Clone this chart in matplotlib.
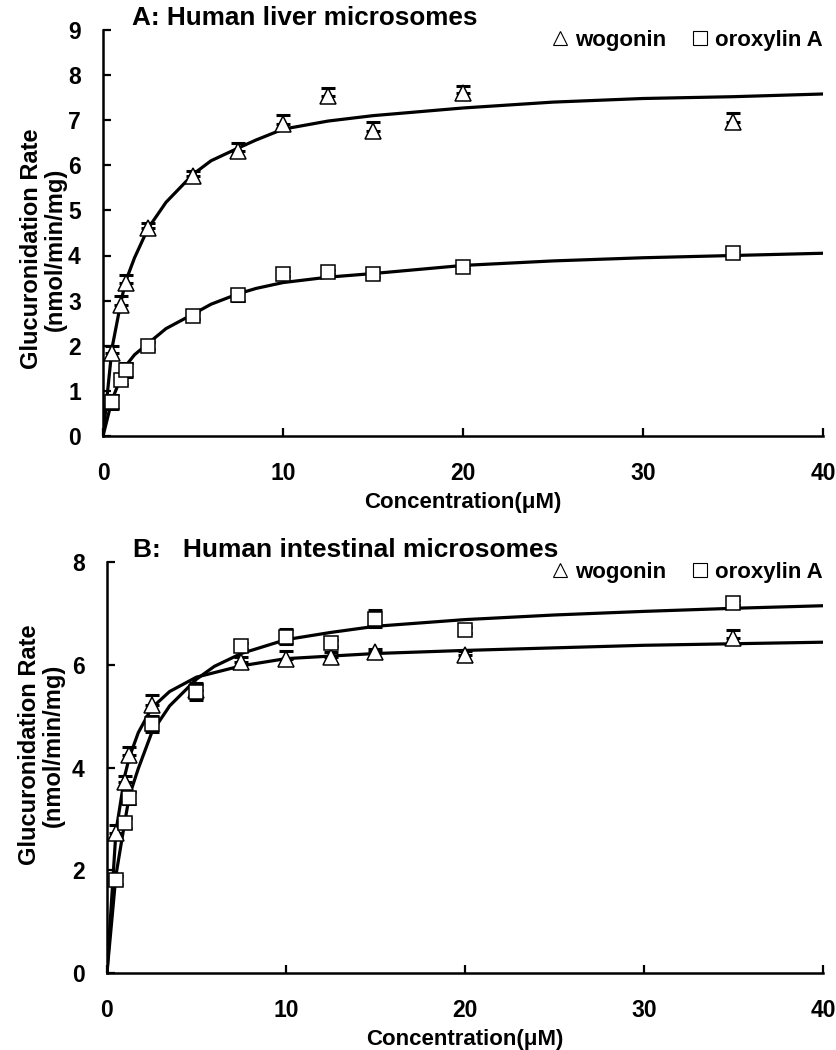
import numpy as np
import matplotlib
matplotlib.use('Agg')
from matplotlib import pyplot as plt
from matplotlib.lines import Line2D

plt.rcParams['font.family'] = ['Liberation Sans', 'DejaVu Sans']
plt.rcParams['font.weight'] = 'bold'

conc = [0.5, 1, 1.25, 2.5, 5, 7.5, 10, 12.5, 15, 20, 35]   # [uM]

# A: human liver microsomes
liver_wog = [1.84, 2.9, 3.39, 4.62, 5.77, 6.32, 6.92, 7.54, 6.77, 7.6, 6.97]
liver_wog_err = [0.16, 0.2, 0.18, 0.1, 0.1, 0.17, 0.2, 0.17, 0.2, 0.16, 0.18]
liver_oro = [0.75, 1.25, 1.46, 2.0, 2.67, 3.12, 3.6, 3.63, 3.58, 3.75, 4.05]
liver_oro_err = [0.15, 0.1, 0.16, 0.08, 0.08, 0.12, 0.06, 0.05, 0.05, 0.05, 0.05]

# fitted curves
liver_fit_x = [0, 0.5, 1, 1.25, 1.75, 2.5, 3.5, 5, 6, 7.5, 8.5, 10, 12.5, 15, 20, 25, 30, 35, 40]
liver_wog_fit = [0, 1.95, 2.98, 3.42, 3.95, 4.6, 5.18, 5.8, 6.1, 6.38, 6.56, 6.8, 6.98, 7.1,
                 7.27, 7.4, 7.48, 7.52, 7.58]
liver_oro_fit = [0, 0.8, 1.3, 1.55, 1.8, 2.05, 2.38, 2.7, 2.92, 3.15, 3.27, 3.4, 3.52, 3.6,
                 3.78, 3.88, 3.95, 4.0, 4.05]

# B: human intestinal microsomes
intest_wog = [2.73, 3.72, 4.25, 5.22, 5.5, 6.06, 6.12, 6.16, 6.24, 6.2, 6.53]
intest_wog_err = [0.15, 0.12, 0.15, 0.2, 0.12, 0.1, 0.15, 0.08, 0.06, 0.06, 0.14]
intest_oro = [1.81, 2.92, 3.41, 4.85, 5.48, 6.36, 6.55, 6.43, 6.9, 6.67, 7.21]
intest_oro_err = [0.08, 0.1, 0.12, 0.15, 0.17, 0.06, 0.14, 0.06, 0.17, 0.06, 0.05]

intest_wog_fit_x = [0, 0.5, 1, 1.25, 1.75, 2.5, 3.5, 5, 7.5, 10, 15, 20, 30, 40]
intest_wog_fit = [0, 2.75, 3.85, 4.2, 4.68, 5.16, 5.48, 5.76, 5.98, 6.12, 6.22, 6.28, 6.38, 6.44]
intest_oro_fit_x = [0, 0.5, 1, 1.25, 1.75, 2.5, 3.5, 5, 6, 7.5, 10, 12.5, 15, 20, 25, 30, 35, 40]
intest_oro_fit = [0, 1.9, 2.95, 3.45, 3.98, 4.68, 5.2, 5.72, 5.97, 6.22, 6.49, 6.63, 6.75, 6.88,
                  6.97, 7.04, 7.1, 7.15]


def draw_panel(ax, wog, wog_err, oro, oro_err, wfx, wfit, ofx, ofit):
    ax.plot(wfx, wfit, color='k', lw=2.3, zorder=2)
    ax.plot(ofx, ofit, color='k', lw=2.3, zorder=2)
    ax.errorbar(conc, wog, yerr=[np.zeros(len(wog)), wog_err], fmt='none',
                ecolor='k', elinewidth=1.2, capsize=4.7, capthick=2.2, zorder=3)
    ax.plot(conc, wog, ls='none', marker='^', ms=11, mfc='white', mec='k',
            mew=1.1, zorder=4)
    ax.errorbar(conc, oro, yerr=oro_err, fmt='none',
                ecolor='k', elinewidth=1.2, capsize=4.7, capthick=2.2, zorder=5)
    ax.plot(conc, oro, ls='none', marker='s', ms=10.5, mfc='white', mec='k',
            mew=1.1, zorder=6)

    ax.set_xlim(0, 40)
    ax.set_xticks([0, 10, 20, 30, 40])
    for s in ['top', 'right']:
        ax.spines[s].set_visible(False)
    for s in ['left', 'bottom']:
        ax.spines[s].set_linewidth(1.8)
    ax.tick_params(direction='in', length=5.5, width=1.6, labelsize=16.5)
    ax.tick_params(axis='x', pad=19)
    ax.tick_params(axis='y', pad=16)
    ax.set_xlabel('Concentration(μM)', fontsize=16, fontweight='bold', labelpad=5)
    ax.set_ylabel('Glucuronidation Rate\n(nmol/min/mg)', fontsize=17,
                  fontweight='bold', va='center', linespacing=1.05)

    handles = [Line2D([], [], ls='none', marker='^', ms=10, mfc='white', mec='k', mew=0.8),
               Line2D([], [], ls='none', marker='s', ms=10, mfc='white', mec='k', mew=0.8)]
    ax.legend(handles, ['wogonin', 'oroxylin A'], ncol=2, frameon=False,
              loc='center right', bbox_to_anchor=(1.0, 0.975),
              prop={'size': 16, 'weight': 'bold'}, handlelength=0.8,
              handletextpad=0.3, columnspacing=1.1, borderpad=0, borderaxespad=0)


fig = plt.figure(figsize=(8.37, 10.5), dpi=100)
axA = fig.add_axes([0.1231, 0.5848, 0.8602, 0.3867])
axB = fig.add_axes([0.1278, 0.0733, 0.8554, 0.3914])

draw_panel(axA, liver_wog, liver_wog_err, liver_oro, liver_oro_err,
           liver_fit_x, liver_wog_fit, liver_fit_x, liver_oro_fit)
axA.set_ylim(0, 9)
axA.set_yticks(range(0, 10))
axA.yaxis.set_label_coords(-0.083, 0.46)
axA.text(0.04, 1.012, 'A: Human liver microsomes', transform=axA.transAxes,
         fontsize=18.8, fontweight='bold', va='baseline')

draw_panel(axB, intest_wog, intest_wog_err, intest_oro, intest_oro_err,
           intest_wog_fit_x, intest_wog_fit, intest_oro_fit_x, intest_oro_fit)
axB.set_ylim(0, 8)
axB.set_yticks([0, 2, 4, 6, 8])
axB.yaxis.set_label_coords(-0.092, 0.555)
axB.text(0.036, 1.012, 'B:   Human intestinal microsomes', transform=axB.transAxes,
         fontsize=19, fontweight='bold', va='baseline')

fig.savefig('out.png', dpi=100)
